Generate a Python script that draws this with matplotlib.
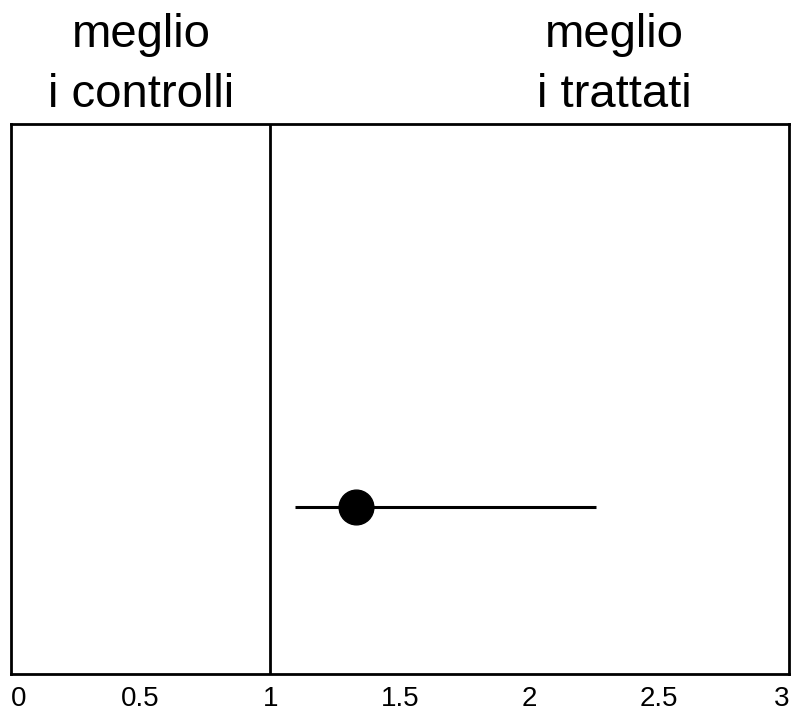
import matplotlib
matplotlib.use("Agg")
import matplotlib.pyplot as plt

# data
estimate = [1.33]
ci_low = [1.095]
ci_high = [2.255]
row_pos = [0.304]
ref_value = 1.0
tick_values = [0, 0.5, 1, 1.5, 2, 2.5, 3]
tick_labels = ["0", "0.5", "1", "1.5", "2", "2.5", "3"]
left_label = ["meglio", "i controlli"]
right_label = ["meglio", "i trattati"]

plt.rcParams['font.family'] = ['Liberation Sans', 'DejaVu Sans']

W, H = 794, 716
fig = plt.figure(figsize=(W / 100, H / 100), dpi=100)
ax = fig.add_axes([11 / W, 42 / H, 778 / W, 550 / H])
ax.set_xlim(0, 2.97)
ax.set_ylim(0, 1)

ax.axvline(ref_value, color='black', lw=2)
ax.hlines(row_pos, ci_low, ci_high, color='black', lw=2.2)
ax.plot(estimate, row_pos, 'o', color='black', markersize=25)

for s in ax.spines.values():
    s.set_linewidth(2)
ax.set_yticks([])
ax.set_xticks(tick_values)
ax.set_xticklabels(tick_labels, fontsize=20)
ax.tick_params(axis='x', length=0, pad=9)
labs = ax.get_xticklabels()
labs[0].set_ha('left')
labs[-1].set_ha('right')

# header texts
fig.text(141 / W, 1 - 47 / H, left_label[0], ha='center', va='baseline', fontsize=34)
fig.text(141 / W, 1 - 107 / H, left_label[1], ha='center', va='baseline', fontsize=34)
fig.text(614 / W, 1 - 47 / H, right_label[0], ha='center', va='baseline', fontsize=34)
fig.text(614 / W, 1 - 107 / H, right_label[1], ha='center', va='baseline', fontsize=34)

fig.savefig("out.png", dpi=100)
